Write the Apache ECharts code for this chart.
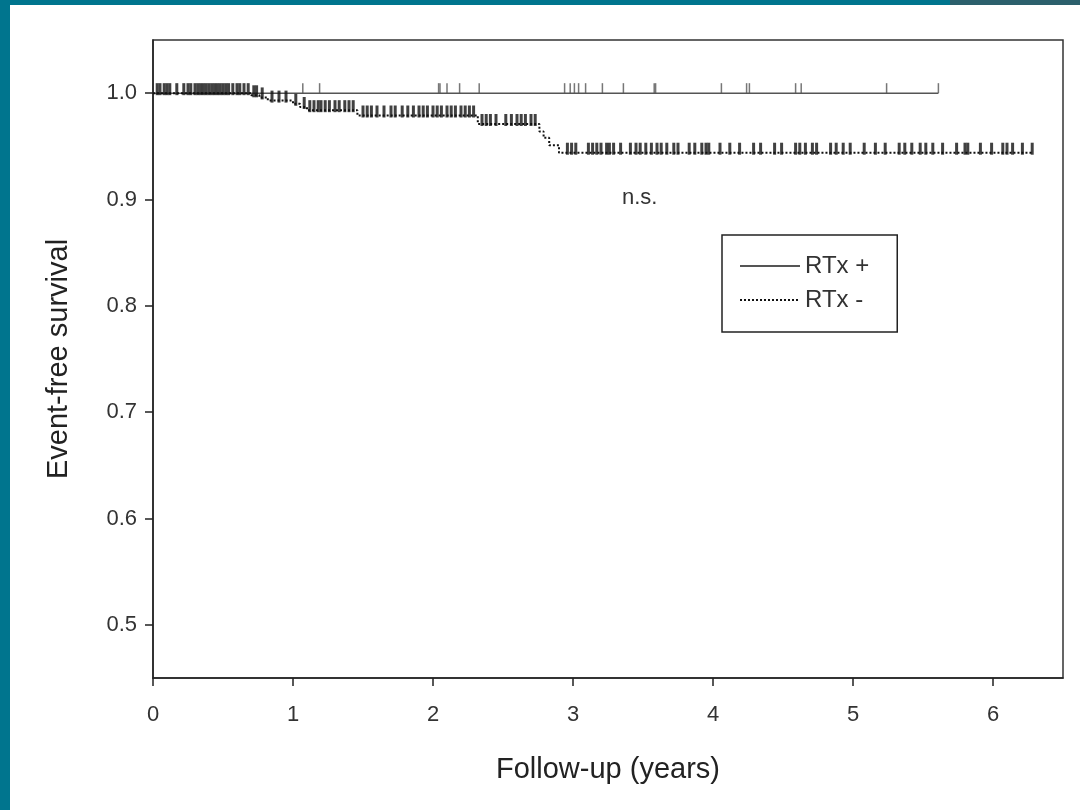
<!DOCTYPE html>
<html>
<head>
<meta charset="utf-8">
<script src="https://cdn.jsdelivr.net/npm/echarts@6/dist/echarts.min.js"></script>
<style>html,body{margin:0;padding:0;background:#fff;}#c{width:1080px;height:810px;}</style>
</head>
<body>
<div id="c"></div>
<script>
// RTx+ : survival curve (time in years, survival) and censor times
const rtxPlusCurve = [[0, 1.0], [5.61, 1.0]];
const rtxPlusCensor = [1.07, 1.19, 2.04, 2.05, 2.10, 2.19, 2.33, 2.94, 2.98, 3.01, 3.04, 3.09, 3.21, 3.36, 3.58, 3.59,
  4.06, 4.24, 4.26, 4.59, 4.63, 5.24, 5.61];
// RTx- : step points (time, survival after step)
const rtxMinusCurve = [[0, 1.0], [0.70, 0.998], [0.76, 0.996], [0.82, 0.993], [1.00, 0.990], [1.05, 0.987],
  [1.10, 0.984], [1.46, 0.979], [2.32, 0.971], [2.76, 0.964], [2.79, 0.958], [2.83, 0.951], [2.90, 0.944], [6.28, 0.944]];
const rtxMinusCensor = [0.03, 0.05, 0.08, 0.10, 0.12, 0.17, 0.22, 0.25, 0.27, 0.30, 0.32, 0.34, 0.36, 0.38, 0.40, 0.42,
  0.44, 0.46, 0.48, 0.50, 0.52, 0.54, 0.57, 0.60, 0.62, 0.65, 0.68, 0.72, 0.74, 0.78, 0.85, 0.90, 0.95, 1.02, 1.08,
  1.12, 1.15, 1.18, 1.20, 1.23, 1.26, 1.30, 1.33, 1.37, 1.40, 1.43, 1.50, 1.53, 1.56, 1.60, 1.65, 1.70, 1.73, 1.78,
  1.82, 1.86, 1.90, 1.93, 1.96, 2.00, 2.03, 2.06, 2.10, 2.13, 2.16, 2.20, 2.23, 2.26, 2.29, 2.35, 2.38, 2.41, 2.45,
  2.52, 2.56, 2.60, 2.63, 2.66, 2.70, 2.73, 2.96, 2.99, 3.02, 3.11, 3.14, 3.17, 3.20, 3.24, 3.26, 3.29, 3.34, 3.41,
  3.45, 3.48, 3.52, 3.56, 3.60, 3.63, 3.67, 3.72, 3.75, 3.83, 3.87, 3.92, 3.95, 3.97, 4.05, 4.12, 4.19, 4.29, 4.34,
  4.44, 4.49, 4.59, 4.62, 4.66, 4.71, 4.74, 4.84, 4.88, 4.93, 4.98, 5.08, 5.16, 5.23, 5.33, 5.37, 5.42, 5.48, 5.52,
  5.57, 5.64, 5.74, 5.80, 5.82, 5.91, 5.99, 6.07, 6.10, 6.14, 6.21, 6.28];
const xTicks = [0, 1, 2, 3, 4, 5, 6];
const yTicks = [0.5, 0.6, 0.7, 0.8, 0.9, 1.0];
const seriesNames = ['RTx +', 'RTx -'];
const annotation = 'n.s.';

function survAt(curve, t) {
  let s = curve[0][1];
  for (const p of curve) { if (p[0] <= t) s = p[1]; }
  return s;
}
const plusMarks = rtxPlusCensor.map(t => [t, survAt(rtxPlusCurve, t)]);
const minusMarks = rtxMinusCensor.map(t => [t, survAt(rtxMinusCurve, t)]);

const font = 'Liberation Sans, Arial, Helvetica, sans-serif';
const chart = echarts.init(document.getElementById('c'), null, {renderer: 'canvas'});
chart.setOption({
  backgroundColor: '#fff',
  animation: false,
  grid: {left: 153, right: 17, top: 40, bottom: 132, show: true, borderColor: '#333', borderWidth: 1.5, backgroundColor: 'transparent'},
  xAxis: {
    type: 'value', min: 0, max: 6.5, interval: 1,
    name: 'Follow-up (years)', nameLocation: 'middle', nameGap: 77,
    nameTextStyle: {fontFamily: font, fontSize: 29, color: '#222'},
    axisLine: {show: true, onZero: false, lineStyle: {color: '#222', width: 1.5}},
    axisTick: {show: true, length: 8, lineStyle: {color: '#222', width: 1.5}, customValues: xTicks},
    axisLabel: {fontFamily: font, fontSize: 22, color: '#333', margin: 26, customValues: xTicks},
    splitLine: {show: false}
  },
  yAxis: {
    type: 'value', min: 0.45, max: 1.05,
    name: 'Event-free survival', nameLocation: 'middle', nameGap: 80,
    nameTextStyle: {fontFamily: font, fontSize: 29, color: '#222'},
    axisLine: {show: true, onZero: false, lineStyle: {color: '#222', width: 1.5}},
    axisTick: {show: true, length: 8, lineStyle: {color: '#222', width: 1.5}, customValues: yTicks},
    axisLabel: {fontFamily: font, fontSize: 22, color: '#333', margin: 16, customValues: yTicks,
      formatter: v => Number(v).toFixed(1)},
    splitLine: {show: false}
  },
  legend: {
    orient: 'vertical', left: 722, top: 235,
    data: seriesNames,
    backgroundColor: '#fff', borderColor: '#222', borderWidth: 1.5,
    padding: [19, 28, 20, 17], itemGap: 10, itemWidth: 60, itemHeight: 14,
    itemStyle: {opacity: 0},
    textStyle: {fontFamily: font, fontSize: 24, color: '#333'}
  },
  graphic: [
    {type: 'rect', shape: {x: 0, y: 0, width: 10, height: 810}, style: {fill: '#00758E'}},
    {type: 'rect', shape: {x: 0, y: 0, width: 1080, height: 5}, style: {fill: '#00758E'}},
    {type: 'rect', shape: {x: 950, y: 0, width: 130, height: 5}, style: {fill: '#2C606C'}},
    {type: 'text', left: 622, top: 187, style: {text: annotation, font: '22px ' + font, fill: '#333'}}
  ],
  series: [
    {name: seriesNames[0], type: 'line', step: 'end', data: rtxPlusCurve, showSymbol: false, symbol: 'none',
      lineStyle: {color: '#555', width: 1.5, type: 'solid'}, itemStyle: {color: '#555'}, z: 3},
    {name: seriesNames[1], type: 'line', step: 'end', data: rtxMinusCurve, showSymbol: false, symbol: 'none',
      lineStyle: {color: '#111', width: 2, type: [2, 2]}, itemStyle: {color: '#111'}, z: 3},
    {name: seriesNames[0] + ' censored', type: 'scatter', data: plusMarks, symbol: 'rect', symbolSize: [1.5, 10],
      symbolOffset: [0, -5], itemStyle: {color: '#555'}, z: 4, silent: true},
    {name: seriesNames[1] + ' censored', type: 'scatter', data: minusMarks, symbol: 'rect', symbolSize: [3, 12],
      symbolOffset: [0, -4], itemStyle: {color: '#111'}, z: 4, silent: true}
  ]
});
</script>
</body>
</html>
